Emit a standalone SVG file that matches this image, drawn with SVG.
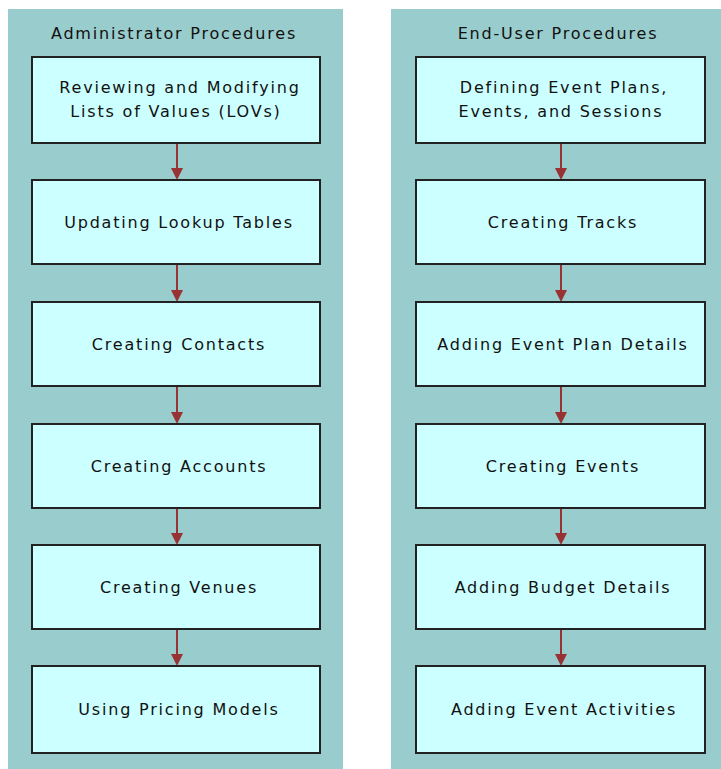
<svg xmlns="http://www.w3.org/2000/svg" width="721" height="769" viewBox="0 0 721 769">
<defs>
<style>
.panel{fill:#99CCCC;}
.box{fill:#CCFFFF;stroke:#222;stroke-width:2;}
.t{font-family:"DejaVu Sans",sans-serif;font-size:16px;letter-spacing:1.8px;fill:#111;text-anchor:middle;}
.c{stroke:#993333;stroke-width:2;fill:none;}
.ah{fill:#993333;}
</style>
</defs>
<rect width="721" height="769" fill="#ffffff"/>
<g id="panel-admin">
<rect class="panel" x="8" y="9" width="335" height="760"/>
<text class="t" x="174" y="39">Administrator Procedures</text>
</g>
<g id="panel-enduser">
<rect class="panel" x="391" y="9" width="330" height="760"/>
<text class="t" x="558" y="39">End-User Procedures</text>
</g>
<g id="connectors">
<g class="c">
<line x1="177" y1="143" x2="177" y2="170"/>
<line x1="177" y1="264" x2="177" y2="292"/>
<line x1="177" y1="386" x2="177" y2="414"/>
<line x1="177" y1="508" x2="177" y2="536"/>
<line x1="177" y1="629" x2="177" y2="656"/>
<line x1="561" y1="143" x2="561" y2="170"/>
<line x1="561" y1="264" x2="561" y2="292"/>
<line x1="561" y1="386" x2="561" y2="414"/>
<line x1="561" y1="508" x2="561" y2="536"/>
<line x1="561" y1="629" x2="561" y2="656"/>
</g>
<g class="ah">
<path d="M171,168 L183,168 L177,180 Z"/>
<path d="M171,290 L183,290 L177,302 Z"/>
<path d="M171,412 L183,412 L177,424 Z"/>
<path d="M171,533 L183,533 L177,545 Z"/>
<path d="M171,654 L183,654 L177,666 Z"/>
<path d="M555,168 L567,168 L561,180 Z"/>
<path d="M555,290 L567,290 L561,302 Z"/>
<path d="M555,412 L567,412 L561,424 Z"/>
<path d="M555,533 L567,533 L561,545 Z"/>
<path d="M555,654 L567,654 L561,666 Z"/>
</g>
</g>
<g id="a1"><rect class="box" x="32" y="57" width="288" height="86"/><text class="t" x="180" y="93">Reviewing and Modifying</text><text class="t" x="176" y="117">Lists of Values (LOVs)</text></g>
<g id="a2"><rect class="box" x="32" y="180" width="288" height="84"/><text class="t" x="179" y="228">Updating Lookup Tables</text></g>
<g id="a3"><rect class="box" x="32" y="302" width="288" height="84"/><text class="t" x="179" y="350">Creating Contacts</text></g>
<g id="a4"><rect class="box" x="32" y="424" width="288" height="84"/><text class="t" x="179" y="472">Creating Accounts</text></g>
<g id="a5"><rect class="box" x="32" y="545" width="288" height="84"/><text class="t" x="179" y="593">Creating Venues</text></g>
<g id="a6"><rect class="box" x="32" y="666" width="288" height="87"/><text class="t" x="179" y="715">Using Pricing Models</text></g>
<g id="e1"><rect class="box" x="416" y="57" width="289" height="86"/><text class="t" x="564" y="93">Defining Event Plans,</text><text class="t" x="561" y="117">Events, and Sessions</text></g>
<g id="e2"><rect class="box" x="416" y="180" width="289" height="84"/><text class="t" x="563" y="228">Creating Tracks</text></g>
<g id="e3"><rect class="box" x="416" y="302" width="289" height="84"/><text class="t" x="563" y="350">Adding Event Plan Details</text></g>
<g id="e4"><rect class="box" x="416" y="424" width="289" height="84"/><text class="t" x="563" y="472">Creating Events</text></g>
<g id="e5"><rect class="box" x="416" y="545" width="289" height="84"/><text class="t" x="563" y="593">Adding Budget Details</text></g>
<g id="e6"><rect class="box" x="416" y="666" width="289" height="87"/><text class="t" x="564" y="715">Adding Event Activities</text></g>
</svg>
